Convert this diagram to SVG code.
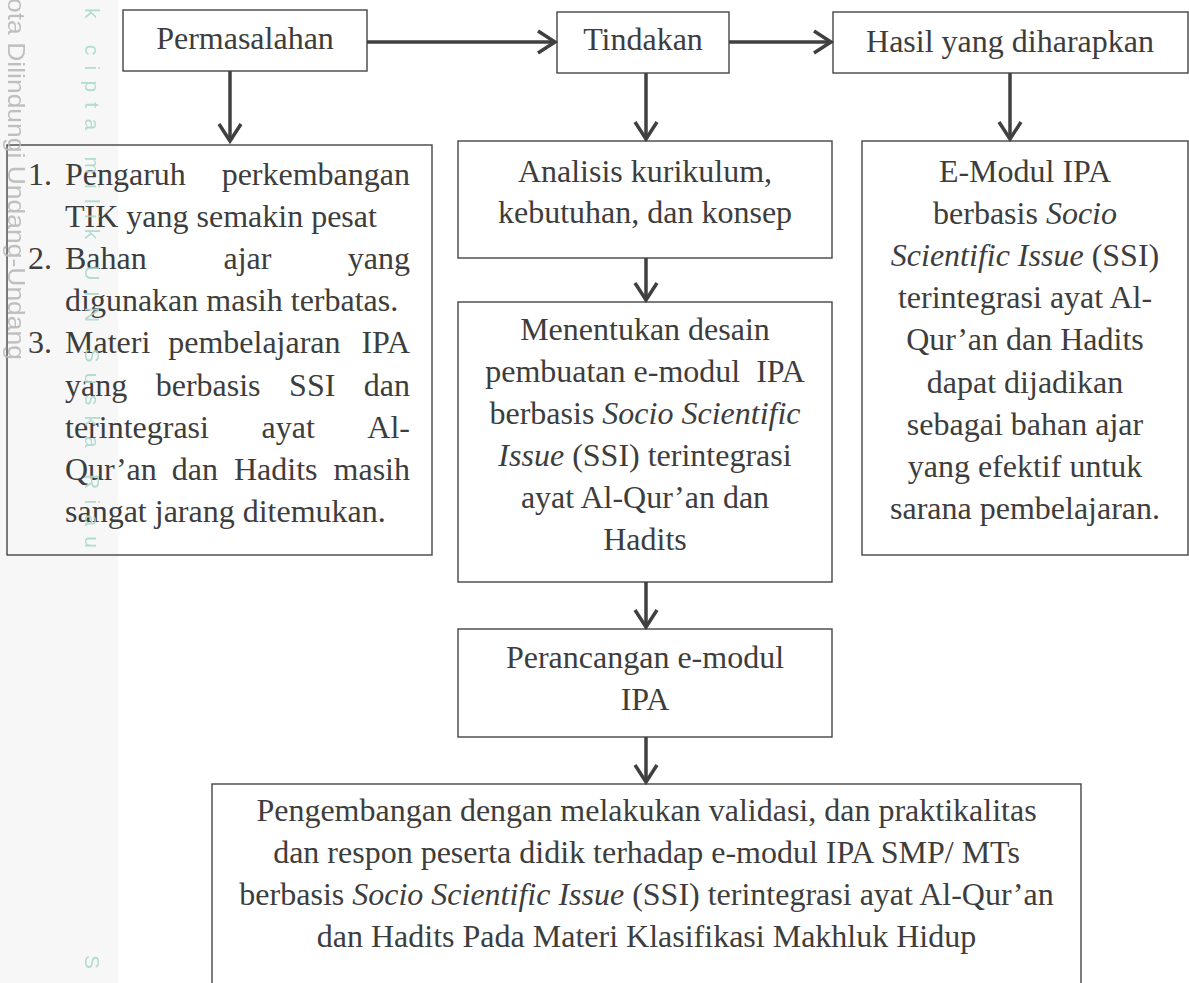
<svg xmlns="http://www.w3.org/2000/svg" width="1189" height="983" viewBox="0 0 1189 983">
<style>
.box{fill:none;stroke:#454545;stroke-width:1.4}
.t{font-family:"Liberation Serif","Times New Roman",serif;font-size:32px;fill:#3d3d3d}
.c{text-anchor:middle}
.e{text-anchor:end}
.i{font-style:italic}
.con{fill:none;stroke:#404040;stroke-width:3.5}
.wm1{font-family:"Liberation Sans",Arial,sans-serif;font-size:24px;fill:#b8b8b8}
.wm2{font-family:"Liberation Sans",Arial,sans-serif;font-size:21px;fill:#a9d8cb}
</style>
<defs>
<marker id="arr" viewBox="-24 -16 30 32" refX="0" refY="0" markerWidth="30" markerHeight="32" markerUnits="userSpaceOnUse" orient="auto">
<path d="M-17,-11 L0,0 L-17,11" fill="none" stroke="#404040" stroke-width="3.5"/>
</marker>
</defs>
<rect x="0" y="0" width="1189" height="983" fill="#ffffff"/>
<rect x="0" y="0" width="118" height="983" fill="#f7f7f7"/>

<g id="permasalahan">
<rect class="box" x="123" y="10" width="244" height="61"/>
<text class="t c" x="245" y="49">Permasalahan</text>
</g>

<g id="tindakan">
<rect class="box" x="557" y="12" width="172" height="61"/>
<text class="t c" x="643" y="50">Tindakan</text>
</g>

<g id="hasil">
<rect class="box" x="833" y="12" width="355" height="61"/>
<text class="t c" x="1010" y="52">Hasil yang diharapkan</text>
</g>

<g id="masalah-list">
<rect class="box" x="7" y="145" width="425" height="410"/>
<text class="t" x="28" y="185">1.</text>
<text class="t" x="65" y="185">Pengaruh</text>
<text class="t e" x="410" y="185">perkembangan</text>
<text class="t" x="65" y="227">TIK yang semakin pesat</text>
<text class="t" x="28" y="269">2.</text>
<text class="t" x="65" y="269">Bahan</text>
<text class="t" x="223.5" y="269">ajar</text>
<text class="t e" x="410" y="269">yang</text>
<text class="t" x="65" y="311">digunakan masih terbatas.</text>
<text class="t" x="28" y="353">3.</text>
<text class="t" x="65" y="353">Materi</text>
<text class="t" x="168.2" y="353">pembelajaran</text>
<text class="t e" x="410" y="353">IPA</text>
<text class="t" x="65" y="396">yang</text>
<text class="t" x="155.7" y="396">berbasis</text>
<text class="t" x="289.1" y="396">SSI</text>
<text class="t e" x="410" y="396">dan</text>
<text class="t" x="65" y="438">terintegrasi</text>
<text class="t" x="261.5" y="438">ayat</text>
<text class="t e" x="410" y="438">Al-</text>
<text class="t" x="65" y="480">Qur’an</text>
<text class="t" x="171.7" y="480">dan</text>
<text class="t" x="234" y="480">Hadits</text>
<text class="t e" x="410" y="480">masih</text>
<text class="t" x="65" y="522">sangat jarang ditemukan.</text>
</g>

<g id="analisis">
<rect class="box" x="458" y="141" width="374" height="117"/>
<text class="t c" x="645" y="182">Analisis kurikulum,</text>
<text class="t c" x="645" y="223">kebutuhan, dan konsep</text>
</g>

<g id="hasil-detail">
<rect class="box" x="862" y="141" width="326" height="414"/>
<text class="t c" x="1025" y="182">E-Modul IPA</text>
<text class="t c" x="1025" y="224">berbasis <tspan class="i">Socio</tspan></text>
<text class="t c" x="1025" y="266"><tspan class="i">Scientific Issue</tspan> (SSI)</text>
<text class="t c" x="1025" y="308">terintegrasi ayat Al-</text>
<text class="t c" x="1025" y="350">Qur’an dan Hadits</text>
<text class="t c" x="1025" y="393">dapat dijadikan</text>
<text class="t c" x="1025" y="435">sebagai bahan ajar</text>
<text class="t c" x="1025" y="477">yang efektif untuk</text>
<text class="t c" x="1025" y="519">sarana pembelajaran.</text>
</g>

<g id="desain">
<rect class="box" x="458" y="302" width="374" height="280"/>
<text class="t c" x="645" y="340">Menentukan desain</text>
<text class="t c" x="645" y="382" xml:space="preserve">pembuatan e-modul  IPA</text>
<text class="t c" x="645" y="424">berbasis <tspan class="i">Socio Scientific</tspan></text>
<text class="t c" x="645" y="466"><tspan class="i">Issue</tspan> (SSI) terintegrasi</text>
<text class="t c" x="645" y="508">ayat Al-Qur’an dan</text>
<text class="t c" x="645" y="550">Hadits</text>
</g>

<g id="perancangan">
<rect class="box" x="458" y="629" width="374" height="108"/>
<text class="t c" x="645" y="668">Perancangan e-modul</text>
<text class="t c" x="645" y="710">IPA</text>
</g>

<g id="pengembangan">
<rect class="box" x="212" y="784" width="869" height="210"/>
<text class="t c" x="646.5" y="821">Pengembangan dengan melakukan validasi, dan praktikalitas</text>
<text class="t c" x="646.5" y="863">dan respon peserta didik terhadap e-modul IPA SMP/ MTs</text>
<text class="t c" x="646.5" y="905">berbasis <tspan class="i">Socio Scientific Issue</tspan> (SSI) terintegrasi ayat Al-Qur’an</text>
<text class="t c" x="646.5" y="947">dan Hadits Pada Materi Klasifikasi Makhluk Hidup</text>
</g>

<g id="connectors">
<path class="con" d="M367,42 H555" marker-end="url(#arr)"/>
<path class="con" d="M729,42 H831" marker-end="url(#arr)"/>
<path class="con" d="M230,71 V141" marker-end="url(#arr)"/>
<path class="con" d="M646,73 V139" marker-end="url(#arr)"/>
<path class="con" d="M1010,73 V139" marker-end="url(#arr)"/>
<path class="con" d="M646,258 V300" marker-end="url(#arr)"/>
<path class="con" d="M646,582 V627" marker-end="url(#arr)"/>
<path class="con" d="M646,737 V782" marker-end="url(#arr)"/>
</g>

<g id="watermark" opacity="0.9">
<text class="wm1" transform="translate(8,-2) rotate(90)" textLength="362" lengthAdjust="spacingAndGlyphs">ota Dilindungi Undang-Undang</text>
<text class="wm2" transform="translate(85,8) rotate(90)" textLength="540" lengthAdjust="spacing">k cipta milik UIN Suska Riau</text>
<text class="wm2" transform="translate(85,955) rotate(90)">S</text>
</g>
</svg>
